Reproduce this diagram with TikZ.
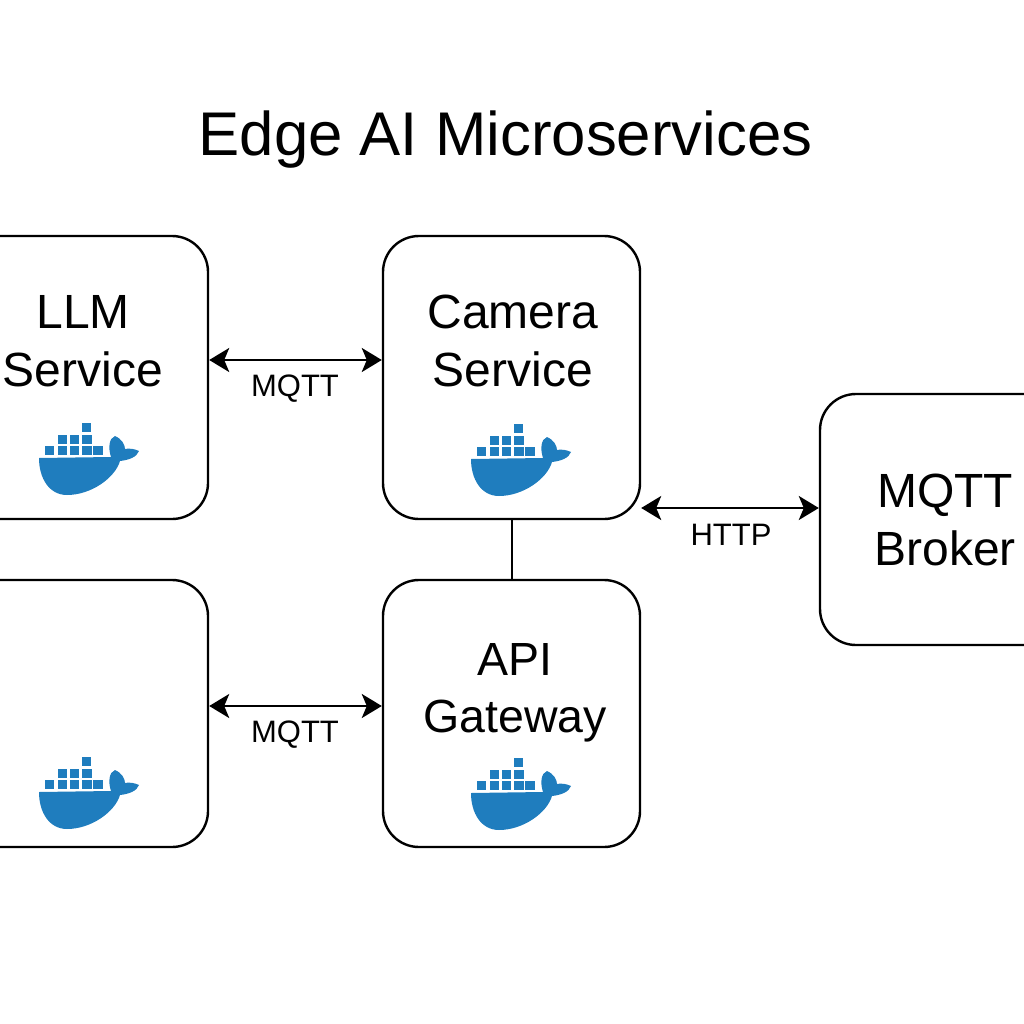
\documentclass[tikz,border=0pt]{standalone}
\usepackage{fontspec}
\setmainfont{Liberation Sans}
\usetikzlibrary{arrows.meta}
\definecolor{dockerblue}{HTML}{1F7DBE}
\tikzset{
  box/.style={draw,line width=2.4pt,rounded corners=36pt,minimum width=257pt,inner sep=0pt},
  boxtext/.style={align=center,font=\fontsize{48}{58}\selectfont,inner sep=0pt},
  linktext/.style={font=\fontsize{31}{36}\selectfont,inner sep=0pt},
  link/.style={line width=2.4pt,{Stealth[length=20pt,width=24pt,inset=5pt]}-{Stealth[length=20pt,width=24pt,inset=5pt]}},
  crate/.style={fill=dockerblue,draw=none},
  whale/.pic={
    % containers
    \foreach \cx/\cy in {6/-12.3,18.7/-12.3,31/-12.3,43.3/-12.3,54.3/-12.3,18.7/-23.3,31/-23.3,43.3/-23.3,42.7/-35}
      \fill[crate] (\cx,\cy) rectangle ++(9.4,9.4);
    % hull
    \fill[dockerblue] (0,0) -- (72,-1) .. controls (69,-10) and (70,-20) .. (76,-22)
      .. controls (83,-19) and (86,-13) .. (86,-9)
      .. controls (90,-10) and (96,-9) .. (100,-7)
      .. controls (98,-1) and (90,2) .. (81,3)
      .. controls (76,20) and (52,37) .. (28,37)
      .. controls (10,37) and (0,20) .. (0,0) -- cycle;
  }
}
\begin{document}
\begin{tikzpicture}[x=1pt,y=-1pt]
\useasboundingbox (0,0) rectangle (1024,1024);
% boxes
\node[box,minimum height=283pt] (llm) at (79.5,377.5) {};
\node[box,minimum height=283pt] (camera) at (511.5,377.5) {};
\node[box,minimum height=267pt] (vision) at (79.5,713.5) {};
\node[box,minimum height=267pt] (api) at (511.5,713.5) {};
\node[box,minimum height=251pt,minimum width=260pt] (broker) at (950,519.5) {};
% texts
\node[font=\fontsize{61.7}{70}\selectfont,inner sep=0pt] (title) at (505.5,140) {Edge AI Microservices};
\node[boxtext] (llmtext) at (83,341) {LLM\\Service};
\node[boxtext] (cameratext) at (513,341) {Camera\\Service};
\node[boxtext,font=\fontsize{46.5}{57}\selectfont] (apitext) at (515,693) {API\\Gateway};
\node[boxtext] (brokertext) at (945,520) {MQTT\\Broker};
% whales
\foreach \wx/\wy in {39/458,471/459,39/792,471/793}
  \pic at (\wx,\wy) {whale};
% links
\draw[link] ([yshift=17.5pt]llm.east) -- ([yshift=17.5pt]camera.west);
\draw[link] ([yshift=7.5pt]vision.east) -- ([yshift=7.5pt]api.west);
\draw[link] ([yshift=-130.5pt]camera.east) -- ([yshift=11.5pt]broker.west);
\draw[line width=2pt] (camera.south) -- (api.north);
\node[linktext] (mqtta) at (295,389) {MQTT};
\node[linktext] (mqttb) at (295,735) {MQTT};
\node[linktext] (http) at (731,535) {HTTP};
\end{tikzpicture}
\end{document}
